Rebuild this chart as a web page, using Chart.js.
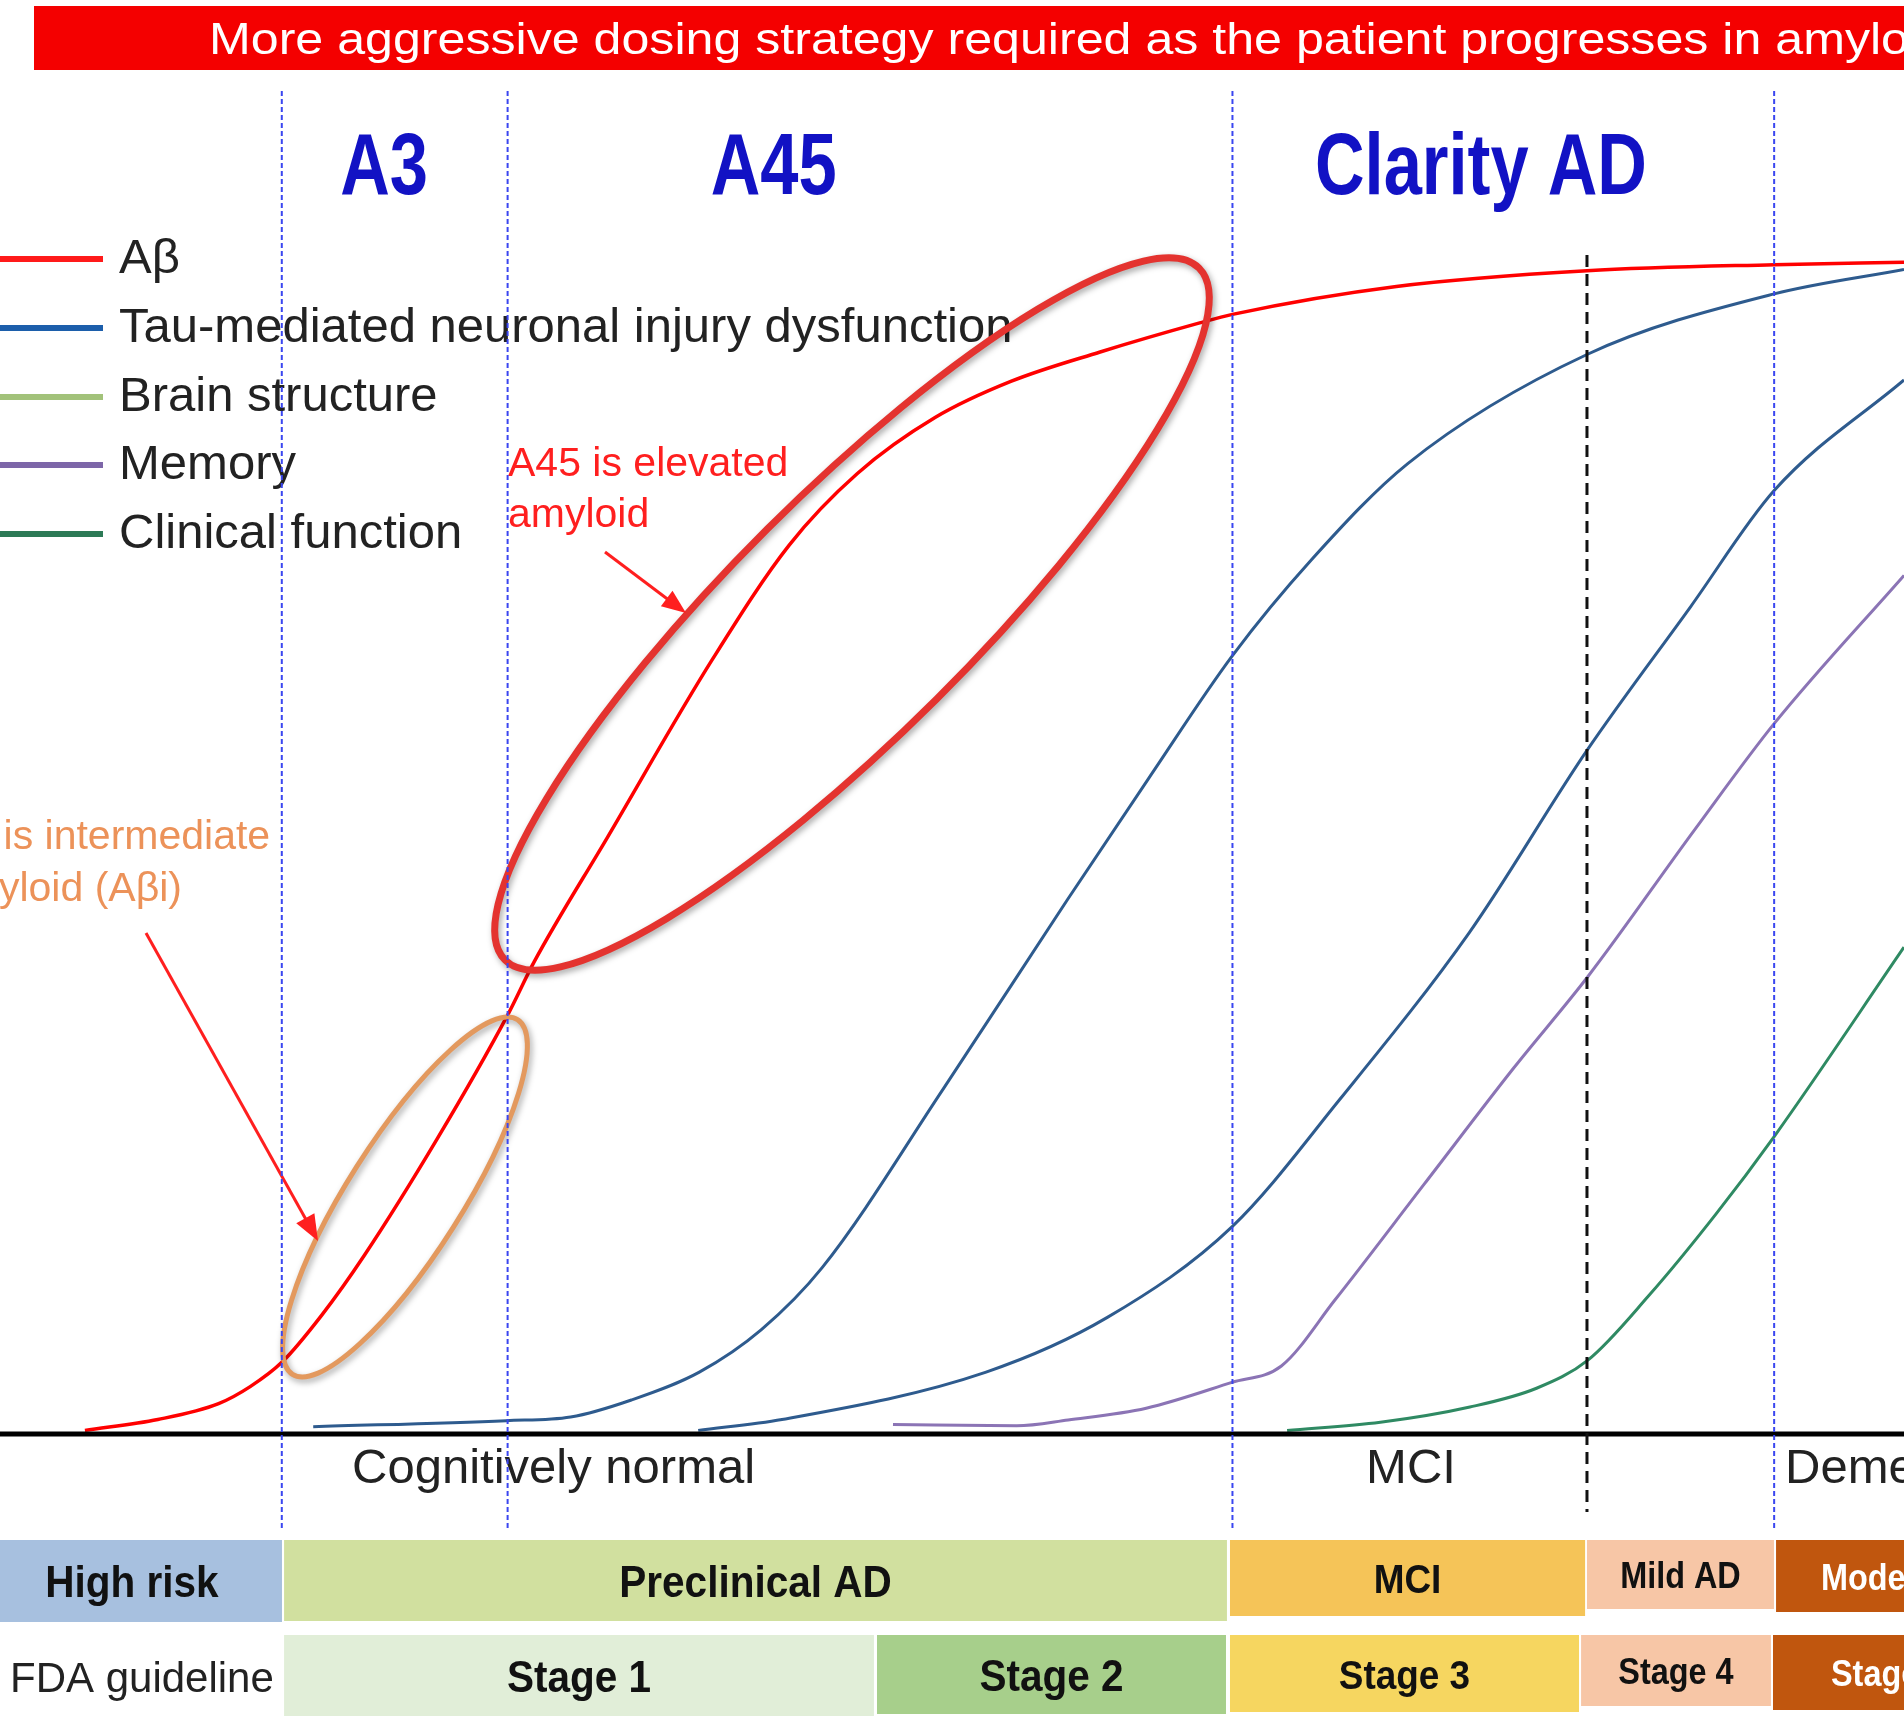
<!DOCTYPE html>
<html>
<head>
<meta charset="utf-8">
<script src="https://cdn.jsdelivr.net/npm/chart.js@4.4.1/dist/chart.umd.min.js"></script>
<style>
  html, body { margin: 0; padding: 0; background: #fff; }
  canvas { display: block; }
</style>
</head>
<body>
<canvas id="myChart" width="1904" height="1724"></canvas>
<script>
// x = disease progression (0..100 across the figure), y = biomarker abnormality (0..100)
const abetaX = [4.46, 8.29, 11.48, 13.14, 14.8, 16.9, 19.13, 22.96, 26.66, 28.06, 31.89, 37.44, 41.45, 45.03, 49.11, 53.12, 57.78, 63.01, 64.73, 73.34, 83.35, 93.18, 100];
const abetaY = [0.31, 1.24, 2.59, 4.04, 6.11, 10.14, 15.22, 25.16, 35.71, 40.27, 50.83, 66.1, 75.78, 81.88, 86.65, 89.75, 92.24, 94.72, 95.45, 97.83, 99.17, 99.69, 99.9];

const tauX = [16.45, 26.59, 29.97, 33.16, 36.73, 39.99, 43.18, 49.62, 56.06, 60.33, 64.73, 68.88, 73.92, 83.35, 93.18, 100];
const tauY = [0.62, 1.14, 1.45, 2.9, 5.28, 8.9, 14.18, 29.61, 45.55, 55.9, 66.36, 74.53, 82.71, 92.03, 97.2, 99.28];

const brainX = [36.67, 41.07, 51.79, 58.16, 64.73, 70.34, 77.17, 83.35, 88.78, 93.18, 100];
const brainY = [0.31, 1.24, 5.28, 9.94, 17.7, 28.47, 42.75, 58.28, 70.5, 80.43, 89.86];

const memoryX = [46.9, 53.4, 56.1, 60.2, 64.7, 67.3, 70.1, 74.8, 79.5, 83.4, 89.0, 93.2, 100];
const memoryY = [0.8, 0.7, 1.2, 2.2, 4.4, 5.8, 11.4, 21.3, 31.2, 39.0, 51.5, 60.6, 73.2];

const clinicalX = [67.6, 72.5, 77.2, 80.7, 83.4, 86.6, 90.1, 93.2, 100];
const clinicalY = [0.3, 1.0, 2.3, 3.9, 6.3, 11.8, 18.7, 25.4, 41.5];

const seriesLabels = ['Aβ', 'Tau-mediated neuronal injury dysfunction', 'Brain structure', 'Memory', 'Clinical function'];

const trialLabels = ['A3', 'A45', 'Clarity AD'];
const trialX = [20.17, 40.63, 77.78];
const trialBounds = [14.8, 26.66, 64.73, 93.18];
const mciDementiaX = 83.35;

const phaseLabels = ['Cognitively normal', 'MCI', 'Dementia'];
const phaseX = [18.49, 71.75, 93.75];

const stageNames = ['High risk', 'Preclinical AD', 'MCI', 'Mild AD', 'Moderate AD'];
const stageFrom = [0, 14.92, 64.6, 83.35, 93.28];
const stageTo = [14.81, 64.44, 83.25, 93.17, 100];

const fdaNames = ['Stage 1', 'Stage 2', 'Stage 3', 'Stage 4', 'Stage 5'];
const fdaFrom = [14.92, 46.06, 64.6, 83.04, 93.12];
const fdaTo = [45.9, 64.39, 82.93, 93.01, 100];

const bannerText = 'More aggressive dosing strategy required as the patient progresses in amyloid';

// styles
const FONT = '"Liberation Sans", Arial, Helvetica, sans-serif';
const lineColors = ['#ff0000', '#2e5b8e', '#2e5b8e', '#8b74b5', '#2f8a63'];
const lineWidths = [3.5, 3, 3, 3, 3];
const legendColors = ['#ff1a1a', '#1c5eab', '#a2c27a', '#7d66a8', '#2c7a56'];
const stageColors = ['#a7c0df', '#d1e09f', '#f5c458', '#f7c6a6', '#c0560e'];
const fdaColors = ['#e1eed8', '#a7cf8b', '#f6d660', '#f7c6a6', '#c0560e'];

function pts(xs, ys) {
  return xs.map((x, i) => ({ x: x, y: ys[i] }));
}

function label(ctx, s, x, y, font, color, align, sx, base) {
  ctx.save();
  ctx.font = font;
  ctx.fillStyle = color;
  ctx.textAlign = align || 'left';
  ctx.textBaseline = base || 'middle';
  ctx.translate(x, y);
  ctx.scale(sx || 1, 1);
  ctx.fillText(s, 0, 0);
  ctx.restore();
}

function arrow(ctx, x1, y1, x2, y2, color, lw, head) {
  const a = Math.atan2(y2 - y1, x2 - x1);
  ctx.save();
  ctx.strokeStyle = color;
  ctx.fillStyle = color;
  ctx.lineWidth = lw;
  ctx.beginPath();
  ctx.moveTo(x1, y1);
  ctx.lineTo(x2 - head * 0.8 * Math.cos(a), y2 - head * 0.8 * Math.sin(a));
  ctx.stroke();
  ctx.beginPath();
  ctx.moveTo(x2, y2);
  ctx.lineTo(x2 - head * Math.cos(a - 0.38), y2 - head * Math.sin(a - 0.38));
  ctx.lineTo(x2 - head * Math.cos(a + 0.38), y2 - head * Math.sin(a + 0.38));
  ctx.closePath();
  ctx.fill();
  ctx.restore();
}

function ring(ctx, cx, cy, a, b, angleDeg, color, lw) {
  ctx.save();
  ctx.shadowColor = 'rgba(0,0,0,0.35)';
  ctx.shadowBlur = 6;
  ctx.shadowOffsetX = 2;
  ctx.shadowOffsetY = 3;
  ctx.strokeStyle = color;
  ctx.lineWidth = lw;
  ctx.beginPath();
  ctx.ellipse(cx, cy, a, b, angleDeg * Math.PI / 180, 0, Math.PI * 2);
  ctx.stroke();
  ctx.restore();
}

const deco = {
  id: 'deco',
  beforeDraw(chart) {
    const ctx = chart.ctx;
    const xs = chart.scales.x;
    const W = chart.width;
    ctx.save();
    ctx.fillStyle = '#fff';
    ctx.fillRect(0, 0, W, chart.height);

    // red banner
    ctx.fillStyle = '#f40000';
    ctx.fillRect(34, 6, W - 34, 64);
    ctx.font = '44px ' + FONT;
    const fitW = ctx.measureText(bannerText.slice(0, -2)).width;
    label(ctx, bannerText, 209, 54, '44px ' + FONT, '#ffffff', 'left', 1700 / fitW, 'alphabetic');

    // legend
    const legendY = [259, 328, 397, 465, 534];
    chart.data.datasets.forEach((ds, i) => {
      ctx.strokeStyle = legendColors[i];
      ctx.lineWidth = 6;
      ctx.beginPath();
      ctx.moveTo(0, legendY[i]);
      ctx.lineTo(103, legendY[i]);
      ctx.stroke();
      label(ctx, ds.label, 119, legendY[i], '49px ' + FONT, '#222');
    });

    // phase labels under the axis
    phaseLabels.forEach((s, i) => {
      label(ctx, s, xs.getPixelForValue(phaseX[i]), 1469, '49px ' + FONT, '#222');
    });

    // stage bands
    const stageBottom = [1622, 1621, 1616, 1609, 1612];
    const stageFont = [45, 45, 41, 36, 36];
    const stageShift = [-9, 0, 0, 0, 0];
    stageNames.forEach((s, i) => {
      const l = xs.getPixelForValue(stageFrom[i]);
      const r = xs.getPixelForValue(stageTo[i]);
      ctx.fillStyle = stageColors[i];
      ctx.fillRect(l, 1540, r - l, stageBottom[i] - 1540);
      const last = i === stageNames.length - 1;
      label(ctx, s, last ? l + 45 : (l + r) / 2 + stageShift[i], (1540 + stageBottom[i]) / 2 + 4,
        'bold ' + stageFont[i] + 'px ' + FONT, last ? '#fff' : '#111', last ? 'left' : 'center', 0.9);
    });

    const fdaBottom = [1716, 1714, 1712, 1706, 1710];
    const fdaFont = [45, 45, 41, 36, 36];
    fdaNames.forEach((s, i) => {
      const l = xs.getPixelForValue(fdaFrom[i]);
      const r = xs.getPixelForValue(fdaTo[i]);
      ctx.fillStyle = fdaColors[i];
      ctx.fillRect(l, 1635, r - l, fdaBottom[i] - 1635);
      const last = i === fdaNames.length - 1;
      label(ctx, s, last ? l + 58 : (l + r) / 2, (1635 + fdaBottom[i]) / 2 + 4,
        'bold ' + fdaFont[i] + 'px ' + FONT, last ? '#fff' : '#111', last ? 'left' : 'center', 0.9);
    });
    label(ctx, 'FDA guideline', 10, 1680, '42px ' + FONT, '#222');
    ctx.restore();
  },
  afterDatasetsDraw(chart) {
    const ctx = chart.ctx;
    const xs = chart.scales.x;
    const ys = chart.scales.y;
    const W = chart.width;
    ctx.save();

    // baseline
    ctx.strokeStyle = '#000';
    ctx.lineWidth = 5;
    ctx.beginPath();
    ctx.moveTo(0, ys.getPixelForValue(0));
    ctx.lineTo(W, ys.getPixelForValue(0));
    ctx.stroke();

    // highlighted amyloid ranges
    ring(ctx, 405, 1197, 210, 57, -57.6, '#e3995e', 5);
    ring(ctx, 852, 614, 490, 120, -44.9, '#e4332f', 7);

    // annotations
    label(ctx, 'A45 is elevated', 508, 465, '41px ' + FONT, '#ff1f1f');
    label(ctx, 'amyloid', 508, 516, '41px ' + FONT, '#ff1f1f');
    arrow(ctx, 605, 552, 686, 613, '#ff1f1f', 3, 26);
    label(ctx, 'A3 is intermediate', -58, 838, '41px ' + FONT, '#ec9259');
    label(ctx, 'amyloid (Aβi)', -58, 890, '41px ' + FONT, '#ec9259');
    arrow(ctx, 146, 933, 318, 1241, '#ff1f1f', 3, 28);

    // trial boundaries
    ctx.strokeStyle = '#3a46f0';
    ctx.lineWidth = 2;
    ctx.setLineDash([5, 3]);
    trialBounds.forEach(v => {
      const px = xs.getPixelForValue(v);
      ctx.beginPath();
      ctx.moveTo(px, 91);
      ctx.lineTo(px, 1530);
      ctx.stroke();
    });
    ctx.strokeStyle = '#111';
    ctx.lineWidth = 3;
    ctx.setLineDash([12, 7]);
    const mx = xs.getPixelForValue(mciDementiaX);
    ctx.beginPath();
    ctx.moveTo(mx, 255);
    ctx.lineTo(mx, 1512);
    ctx.stroke();
    ctx.setLineDash([]);

    trialLabels.forEach((s, i) => {
      label(ctx, s, xs.getPixelForValue(trialX[i]), 194, 'bold 88px ' + FONT, '#1212c4', 'center', 0.78, 'alphabetic');
    });
    ctx.restore();
  }
};

const series = [[abetaX, abetaY], [tauX, tauY], [brainX, brainY], [memoryX, memoryY], [clinicalX, clinicalY]];

const ctx = document.getElementById('myChart').getContext('2d');
const myChart = new Chart(ctx, {
  type: 'line',
  data: {
    datasets: series.map((s, i) => ({
      label: seriesLabels[i],
      data: pts(s[0], s[1]),
      borderColor: lineColors[i],
      borderWidth: lineWidths[i],
      pointRadius: 0,
      fill: false,
      cubicInterpolationMode: 'monotone',
      clip: false
    }))
  },
  options: {
    responsive: false,
    animation: false,
    devicePixelRatio: 1,
    layout: { padding: { top: 261, bottom: 290, left: 0, right: 0 } },
    plugins: {
      legend: { display: false },
      tooltip: { enabled: false }
    },
    scales: {
      x: { type: 'linear', min: 0, max: 100, display: false },
      y: { min: 0, max: 100, display: false }
    }
  },
  plugins: [deco]
});
</script>
</body>
</html>
